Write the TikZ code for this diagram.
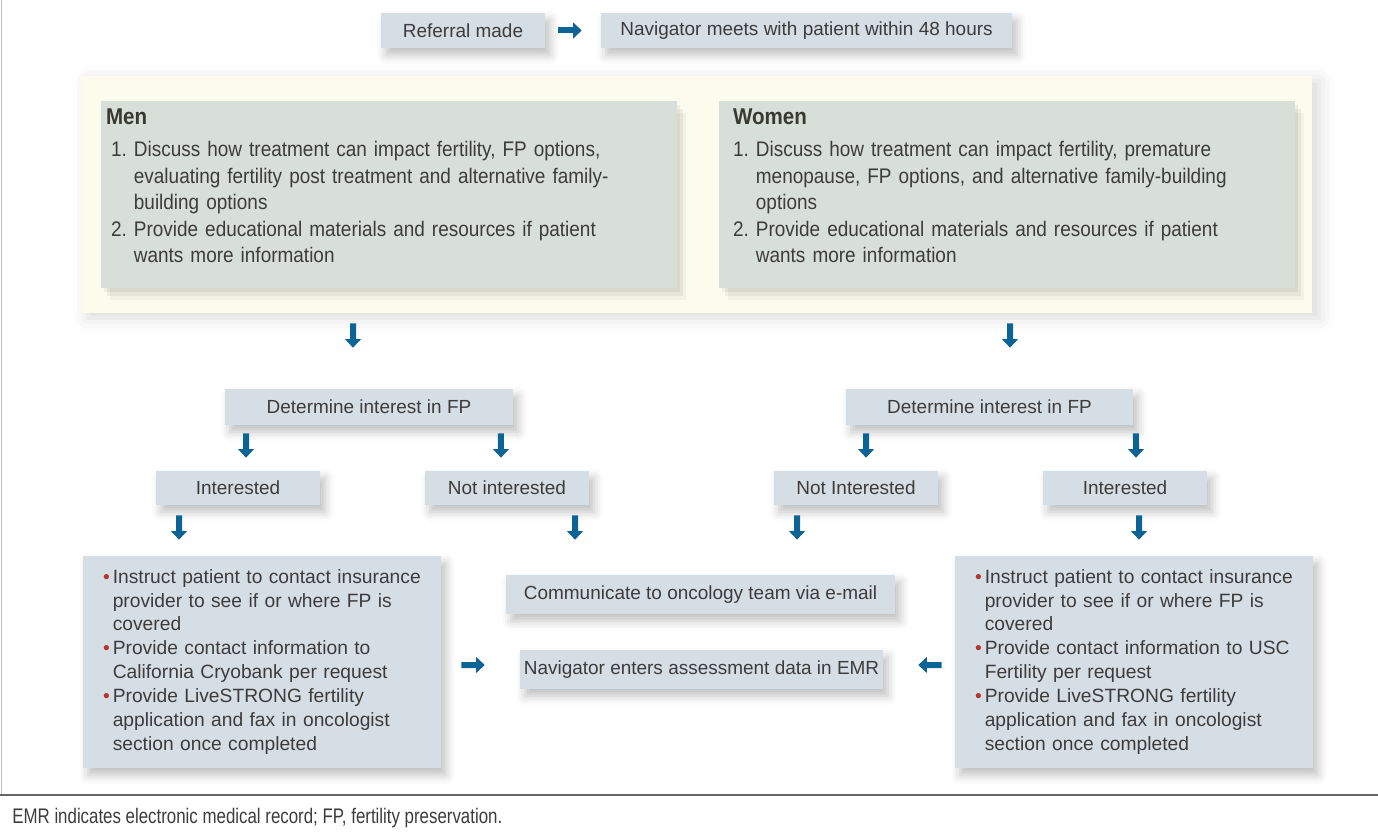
\documentclass[tikz,border=0pt]{standalone}
\usepackage{fontspec}
\setmainfont{Liberation Sans}
\newfontfamily\listfont{Liberation Sans}[FakeStretch=0.9]
\newfontfamily\capfont{Liberation Sans}[FakeStretch=0.8]
\usetikzlibrary{arrows.meta,shadows,shadows.blur}
\definecolor{boxblue}{HTML}{D6DEE5}
\definecolor{boxgreen}{HTML}{D8DFD9}
\definecolor{cream}{HTML}{FBFBEE}
\definecolor{arrowblue}{HTML}{0C6496}
\definecolor{textgray}{HTML}{3C3C3C}
\definecolor{headgray}{HTML}{363A30}
\definecolor{bulletred}{HTML}{B5342E}
\begin{document}
\begin{tikzpicture}[x=0.02cm,y=-0.02cm,
	boxnode/.style={rectangle,fill=boxblue,text=textgray,inner sep=0pt,font=\fontsize{10.8}{13}\selectfont,blur shadow={shadow xshift=0.1cm,shadow yshift=-0.14cm,shadow blur radius=0.18cm,shadow opacity=25}},
	gendernode/.style={rectangle,fill=boxgreen,text=textgray,inner sep=0pt,text width=11.52cm,minimum height=3.74cm,align=left,font=\listfont\fontsize{12}{15.1}\selectfont,
		drop shadow={fill=black,opacity=0.05,shadow xshift=0.06cm,shadow yshift=-0.08cm},
		drop shadow={fill=black,opacity=0.05,shadow xshift=0.12cm,shadow yshift=-0.16cm},
		drop shadow={fill=black,opacity=0.04,shadow xshift=0.18cm,shadow yshift=-0.24cm}},
	listnode/.style={boxnode,inner xsep=0.4cm,text width=6.36cm,minimum height=4.24cm,align=left,font=\fontsize{10.95}{13.6}\selectfont},
	flowarrow/.style={draw=arrowblue,line width=0.12cm,-{Triangle[length=0.17cm,width=0.31cm]}}
]
\useasboundingbox (0,0) rectangle (1378,838);

% Rahmen
\draw[black!25] (1,0) -- (1,795);
\draw[black!60,line width=0.6pt] (0,795) -- (1378,795);

% Kopf
\node[boxnode,minimum width=3.28cm,minimum height=0.7cm] (1) at (463,30.5) {Referral made};
\node[boxnode,minimum width=8.22cm,minimum height=0.7cm] (2) at (806.5,30.5) {Navigator meets with patient within 48 hours};

% Beratung
\node[rectangle,fill=cream,minimum width=24.62cm,minimum height=4.74cm,blur shadow={shadow xshift=0.14cm,shadow yshift=-0.1cm,shadow blur radius=0.3cm,shadow opacity=15}] (3) at (696.5,194.5) {};
\node[gendernode] (4) at (389,194.5) {\begin{tabular}{@{\hspace{0.2cm}}r@{\ }l@{}}
\multicolumn{2}{@{\hspace{0.1cm}}l}{\color{headgray}\bfseries\fontsize{13}{15}\selectfont Men}\\[0.1cm]
1. & Discuss how treatment can impact fertility, FP options,\\
 & evaluating fertility post treatment and alternative family-\\
 & building options\\
2. & Provide educational materials and resources if patient\\
 & wants more information\\[0.24cm]
\end{tabular}};
\node[gendernode] (5) at (1007,194.5) {\begin{tabular}{@{\hspace{0.28cm}}r@{\ }l@{}}
\multicolumn{2}{@{\hspace{0.28cm}}l}{\color{headgray}\bfseries\fontsize{13}{15}\selectfont Women}\\[0.1cm]
1. & Discuss how treatment can impact fertility, premature\\
 & menopause, FP options, and alternative family-building\\
 & options\\
2. & Provide educational materials and resources if patient\\
 & wants more information\\[0.24cm]
\end{tabular}};

% Entscheidung
\node[boxnode,minimum width=5.76cm,minimum height=0.72cm] (6) at (369,407) {Determine interest in FP};
\node[boxnode,minimum width=5.74cm,minimum height=0.72cm] (7) at (989.5,407) {Determine interest in FP};
\node[boxnode,minimum width=3.28cm,minimum height=0.68cm] (8) at (238,488) {Interested};
\node[boxnode,minimum width=3.28cm,minimum height=0.68cm] (9) at (507,488) {Not interested};
\node[boxnode,minimum width=3.28cm,minimum height=0.68cm] (10) at (856,488) {Not Interested};
\node[boxnode,minimum width=3.28cm,minimum height=0.68cm] (11) at (1125,488) {Interested};

% Massnahmen
\node[listnode] (12) at (262,662) {\begin{tabular}{@{}l@{\hspace{0.06cm}}l@{}}
{\color{bulletred}\textbullet} & Instruct patient to contact insurance\\
 & provider to see if or where FP is\\
 & covered\\
{\color{bulletred}\textbullet} & Provide contact information to\\
 & California Cryobank per request\\
{\color{bulletred}\textbullet} & Provide LiveSTRONG fertility\\
 & application and fax in oncologist\\
 & section once completed
\end{tabular}};
\node[listnode] (13) at (1134,662) {\begin{tabular}{@{}l@{\hspace{0.06cm}}l@{}}
{\color{bulletred}\textbullet} & Instruct patient to contact insurance\\
 & provider to see if or where FP is\\
 & covered\\
{\color{bulletred}\textbullet} & Provide contact information to USC\\
 & Fertility per request\\
{\color{bulletred}\textbullet} & Provide LiveSTRONG fertility\\
 & application and fax in oncologist\\
 & section once completed
\end{tabular}};
\node[boxnode,minimum width=7.78cm,minimum height=0.78cm] (14) at (700.5,594.5) {Communicate to oncology team via e-mail};
\node[boxnode,minimum width=7.26cm,minimum height=0.78cm] (15) at (701.5,669.5) {Navigator enters assessment data in EMR};

% Pfeile
\draw[flowarrow,shorten <=0.26cm,shorten >=0.38cm] (1) -- (2);
\draw[flowarrow,shorten <=0.7cm,shorten >=0.82cm] ([xshift=-0.72cm]4.south) -- ([xshift=-0.32cm]6.north);
\draw[flowarrow,shorten <=0.7cm,shorten >=0.82cm] ([xshift=0.06cm]5.south) -- ([xshift=0.41cm]7.north);
\draw[flowarrow,shorten <=0.16cm,shorten >=0.26cm] ([xshift=-2.46cm]6.south) -- ([xshift=0.16cm]8.north);
\draw[flowarrow,shorten <=0.16cm,shorten >=0.26cm] ([xshift=2.64cm]6.south) -- ([xshift=-0.12cm]9.north);
\draw[flowarrow,shorten <=0.16cm,shorten >=0.26cm] ([xshift=-2.47cm]7.south) -- ([xshift=0.2cm]10.north);
\draw[flowarrow,shorten <=0.16cm,shorten >=0.26cm] ([xshift=2.93cm]7.south) -- ([xshift=0.22cm]11.north);
\draw[flowarrow,shorten <=0.2cm,shorten >=0.32cm] ([xshift=-1.18cm]8.south) -- ([xshift=-1.66cm]12.north);
\draw[flowarrow,shorten <=0.2cm,shorten >=0.7cm] ([xshift=1.36cm]9.south) -- ([xshift=-2.51cm]14.north);
\draw[flowarrow,shorten <=0.2cm,shorten >=0.7cm] ([xshift=-1.18cm]10.south) -- ([xshift=1.93cm]14.north);
\draw[flowarrow,shorten <=0.2cm,shorten >=0.32cm] ([xshift=0.28cm]11.south) -- ([xshift=0.1cm]13.north);
\draw[flowarrow,shorten <=0.4cm,shorten >=0.7cm] ([yshift=-0.06cm]12.east) -- ([yshift=0.09cm]15.west);
\draw[flowarrow,shorten <=0.26cm,shorten >=0.7cm] ([yshift=-0.06cm]13.west) -- ([yshift=0.09cm]15.east);

% Legende
\node[anchor=west,inner sep=0pt,text=textgray,font=\capfont\fontsize{12}{14}\selectfont] (16) at (12,818) {EMR indicates electronic medical record; FP, fertility preservation.};

\end{tikzpicture}
\end{document}
